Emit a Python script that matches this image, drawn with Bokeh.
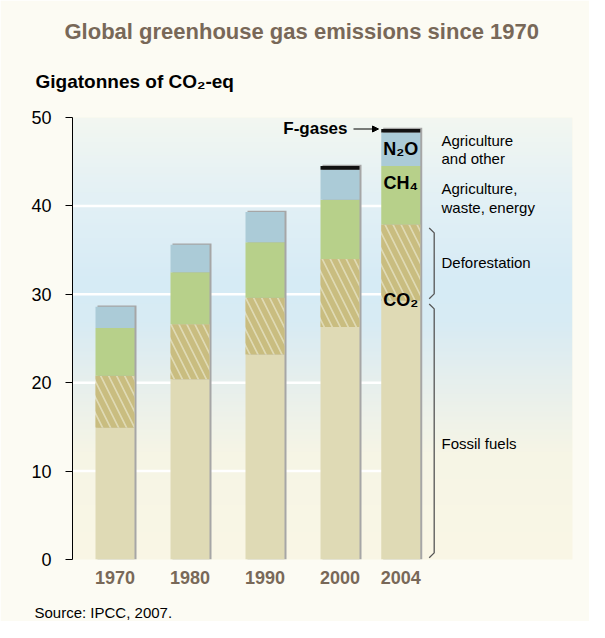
import numpy as np
from bokeh.plotting import figure
from bokeh.models import Range1d, FixedTicker, Label, Arrow, NormalHead, ColumnDataSource, Title
from bokeh.embed import file_html
from bokeh.resources import INLINE

# ---------------- data ----------------
years = ["1970", "1980", "1990", "2000", "2004"]
fossil_co2 = [14.9, 20.4, 23.2, 26.3, 29.3]
deforestation_co2 = [5.9, 6.2, 6.4, 7.7, 8.6]
ch4 = [5.4, 5.9, 6.3, 6.7, 6.6]
n2o = [2.4, 3.1, 3.4, 3.4, 3.8]
f_gases = [0.0, 0.0, 0.0, 0.4, 0.4]
y_ticks = [0, 10, 20, 30, 40, 50]
grid_values = [10, 20, 30, 40]

# ---------------- layout / style ----------------
slot = [0.0, 1.0, 2.0, 3.0, 3.81]   # bar slots (last gap is narrower)
PXX = 75.0          # px per slot
PXY = 8.84          # px per Gt
X0 = -42.5 / PXX
X1 = X0 + 500 / PXX
BAR_W = 39 / PXX
FONT = "Liberation Sans"
BROWN = "#786858"

C_FOSSIL = "#dfdab5"
C_HATCH = "#c9bd80"
C_CH4 = "#b7d08a"
C_N2O = "#abcbd7"
C_SHADOW = "#a6a6a6"


def px_x(px):  # page x -> data x
    return (px - 122.5) / PXX


def px_y(py):  # page y -> data y
    return (567 - py) / PXY


p = figure(frame_width=500, frame_height=442,
           x_range=Range1d(X0, X1), y_range=Range1d(0, 50),
           min_border_left=72, min_border_right=17,
           min_border_top=117, min_border_bottom=40,
           output_backend="svg", toolbar_location=None)
p.border_fill_color = "#fcfbf3"
p.background_fill_color = "#faf7e5"
p.outline_line_color = None
p.xgrid.visible = False
p.ygrid.visible = False

# ---------------- titles (outside the frame) ----------------
p.title.text = "Global greenhouse gas emissions since 1970"
p.title.align = "left"
p.title.offset = 72 - 80
p.title.standoff = -2
p.title.text_font = FONT
p.title.text_font_size = "22px"
p.title.text_font_style = "bold"
p.title.text_color = BROWN

p.add_layout(Title(text="Gigatonnes of CO₂-eq", align="left",
                   offset=43 - 80, standoff=52, text_font=FONT, text_font_size="19px",
                   text_font_style="bold", text_color="black"), "above")

# ---------------- gradient background ----------------
stops_y = [px_y(567), px_y(460), px_y(400), px_y(330), px_y(290), px_y(200), px_y(125)]
stops_c = [(250, 247, 229), (246, 245, 230), (233, 240, 236), (216, 235, 244),
           (214, 235, 246), (228, 241, 245), (243, 247, 241)]
n = 300
ys = np.linspace(0, 50, n)
img = np.empty((n, 1), dtype=np.uint32)
view = img.view(dtype=np.uint8).reshape((n, 1, 4))
for k in range(3):
    view[:, 0, k] = np.interp(ys, stops_y, [c[k] for c in stops_c]).astype(np.uint8)
view[:, 0, 3] = 255
p.image_rgba(image=[img], x=X0, y=0, dw=X1 - X0, dh=50, level="image")

# grid lines (white, stop at last bar)
p.segment(x0=[X0] * len(grid_values), x1=[slot[-1]] * len(grid_values),
          y0=grid_values, y1=grid_values, line_color="white", line_width=2.5)

# ---------------- bars ----------------
f = np.array(fossil_co2)
d = np.array(deforestation_co2)
c = np.array(ch4)
nn = np.array(n2o)
fg = np.array(f_gases)
b1 = f
b2 = b1 + d
b3 = b2 + c
b4 = b3 + nn
total = b4 + fg
xs = np.array(slot)

# shadow
p.vbar(x=xs + 2 / PXX, top=total + 1.3 / PXY, bottom=0, width=BAR_W,
       fill_color=C_SHADOW, line_color=None)

src = ColumnDataSource(dict(x=xs, b0=np.zeros(len(xs)), b1=b1, b2=b2, b3=b3, b4=b4, t=total))
p.vbar(x="x", bottom="b0", top="b1", width=BAR_W, source=src,
       fill_color=C_FOSSIL, line_color=None)
p.vbar(x="x", bottom="b1", top="b2", width=BAR_W, source=src,
       fill_color=C_FOSSIL, line_color=None,
       hatch_pattern="\\", hatch_color=C_HATCH, hatch_weight=5.5, hatch_scale=16)
p.vbar(x="x", bottom="b2", top="b3", width=BAR_W, source=src,
       fill_color=C_CH4, line_color=None)
p.vbar(x="x", bottom="b3", top="b4", width=BAR_W, source=src,
       fill_color=C_N2O, line_color=None)
p.vbar(x="x", bottom="b4", top="t", width=BAR_W, source=src,
       fill_color="#111111", line_color=None)

# ---------------- axes ----------------
p.yaxis.ticker = FixedTicker(ticks=y_ticks)
p.yaxis.minor_tick_line_color = None
p.yaxis.major_tick_out = 7
p.yaxis.major_tick_in = 0
p.yaxis.axis_line_color = "black"
p.yaxis.major_tick_line_color = "black"
p.yaxis.major_label_text_font = FONT
p.yaxis.major_label_text_font_size = "18px"
p.yaxis.major_label_text_color = "black"
p.yaxis.major_label_standoff = 14

p.xaxis.ticker = FixedTicker(ticks=slot)
p.xaxis.major_label_overrides = {s: y for s, y in zip(slot, years)}
p.xaxis.axis_line_color = None
p.xaxis.major_tick_line_color = None
p.xaxis.minor_tick_line_color = None
p.xaxis.major_label_text_font = FONT
p.xaxis.major_label_text_font_size = "18px"
p.xaxis.major_label_text_font_style = "bold"
p.xaxis.major_label_text_color = BROWN
p.xaxis.major_label_standoff = 5

# spacer between year labels and source line
p.add_layout(Title(text="\u00a0", text_font=FONT, text_font_size="9px", standoff=2), "below")
p.add_layout(Title(text="Source: IPCC, 2007.", align="left", offset=42 - 80,
                   standoff=2, text_font=FONT, text_font_size="15px",
                   text_font_style="normal", text_color="black"), "below")


def lab(x, y, text, size, bold=False, color="black", align="left"):
    p.add_layout(Label(x=x, y=y, text=text, text_font=FONT, text_font_size=size,
                       text_font_style="bold" if bold else "normal",
                       text_color=color, text_align=align, text_baseline="middle"))


# in-bar gas labels (last bar)
xl = slot[-1]
lab(xl, (b3[-1] + b4[-1]) / 2, "N₂O", "18px", True, align="center")
lab(xl, b3[-1] - 1.9, "CH₄", "18px", True, align="center")
lab(xl, b1[-1], "CO₂", "18px", True, align="center")

# F-gases pointer
lab(px_x(355), total[-1] + 0.1, "F-gases", "17px", True, align="right")
p.add_layout(Arrow(end=NormalHead(size=6, fill_color="black", line_color="black"),
                   x_start=px_x(361), y_start=total[-1], x_end=px_x(386), y_end=total[-1],
                   line_color="black", line_width=1.2))

# right-side descriptions
RX = px_x(449)
LH = 18.5 / PXY
mid_n2o = (b3[-1] + b4[-1]) / 2
lab(RX, mid_n2o + LH / 2, "Agriculture", "15px")
lab(RX, mid_n2o - LH / 2, "and other", "15px")
mid_ch4 = (b2[-1] + b3[-1]) / 2 - 0.3
lab(RX, mid_ch4 + LH / 2, "Agriculture,", "15px")
lab(RX, mid_ch4 - LH / 2, "waste, energy", "15px")
lab(RX, (b1[-1] + b2[-1]) / 2, "Deforestation", "15px")
lab(RX, 13.1, "Fossil fuels", "15px")

# brackets
TIP = px_x(436.7)
VX = px_x(441.7)


def bracket(lo, hi):
    return [TIP, VX, VX, TIP], [hi - 0.4, hi - 0.95, lo + 0.75, lo + 0.2]


bx1, by1 = bracket(b1[-1], b2[-1])
bx2, by2 = bracket(0, b1[-1])
p.multi_line(xs=[bx1, bx2], ys=[by1, by2], line_color="#555555", line_width=1.3)

open("out.html", "w").write(file_html(p, INLINE))
